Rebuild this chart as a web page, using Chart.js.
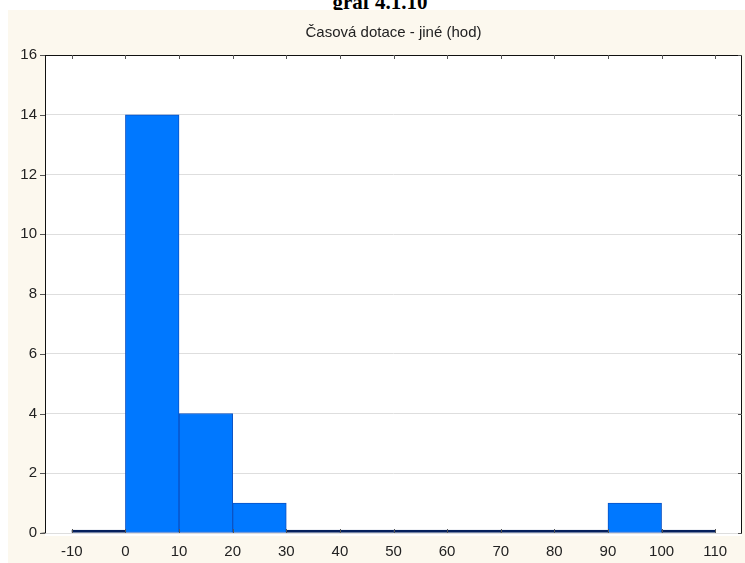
<!DOCTYPE html>
<html>
<head>
<meta charset="utf-8">
<script src="https://cdn.jsdelivr.net/npm/chart.js@4.4.1/dist/chart.umd.min.js"></script>
<style>
  html, body { margin: 0; padding: 0; background: #ffffff; }
  body { width: 745px; height: 563px; position: relative; overflow: hidden; }
  #doc-title {
    position: absolute; left: 0; width: 760px; top: -8px;
    text-align: center; font: bold 21px "Liberation Serif", "DejaVu Serif", serif;
    line-height: 21px; color: #000; z-index: 0;
  }
  #panel {
    position: absolute; left: 8px; top: 10px; width: 737px; height: 553px;
    background: #fcf8ee; z-index: 1;
  }
  canvas { display: block; }
</style>
</head>
<body>
<div id="doc-title">graf 4.1.10</div>
<div id="panel"><canvas id="chart" width="737" height="553"></canvas></div>
<script>
// histogram bin edges (hours) and counts per bin
const binEdges = [-10, 0, 10, 20, 30, 40, 50, 60, 70, 80, 90, 100, 110];
const counts = [0, 14, 4, 1, 0, 0, 0, 0, 0, 0, 1, 0];
const xTicks = [-10, 0, 10, 20, 30, 40, 50, 60, 70, 80, 90, 100, 110];
const yTicks = [0, 2, 4, 6, 8, 10, 12, 14, 16];
const chartTitle = 'Časová dotace - jiné (hod)';

const BLUE = '#0078ff';
const BLUE_EDGE = '#0a52c4';
const NAVY = '#06215e';
const FONT = '"Liberation Sans", Arial, sans-serif';

const barData = counts.map((c, i) => ({ x: (binEdges[i] + binEdges[i + 1]) / 2, y: c }));

// white plot area, frame and the small inner ticks
const framePlugin = {
  id: 'frame',
  beforeDraw(chart) {
    const { ctx, chartArea: a } = chart;
    ctx.save();
    ctx.fillStyle = '#ffffff';
    ctx.fillRect(a.left, a.top, a.right - a.left, a.bottom - a.top + 3);
    ctx.restore();
  },
  afterDatasetsDraw(chart) {
    const { ctx, chartArea: a, scales } = chart;
    ctx.save();
    ctx.strokeStyle = '#111111';
    ctx.lineWidth = 1;
    ctx.beginPath();
    ctx.moveTo(a.left, a.top + 0.5);
    ctx.lineTo(a.right - 0.5, a.top + 0.5);
    ctx.lineTo(a.right - 0.5, a.bottom);
    ctx.moveTo(a.left + 0.5, a.top);
    ctx.lineTo(a.left + 0.5, a.bottom);
    ctx.lineTo(a.left - 5, a.bottom + 0.5);
    ctx.stroke();
    ctx.strokeStyle = '#555555';
    ctx.beginPath();
    xTicks.forEach(v => {
      const px = Math.round(scales.x.getPixelForValue(v)) + 0.5;
      ctx.moveTo(px, a.top);
      ctx.lineTo(px, a.top + 4);
      ctx.moveTo(px, a.bottom);
      ctx.lineTo(px, a.bottom - 4);
    });
    yTicks.forEach(v => {
      const py = Math.round(scales.y.getPixelForValue(v)) + 0.5;
      ctx.moveTo(a.right, py);
      ctx.lineTo(a.right - 4, py);
      ctx.moveTo(a.left, py);
      ctx.lineTo(a.left - 5, py);
    });
    ctx.stroke();
    ctx.restore();
  }
};

new Chart(document.getElementById('chart'), {
  type: 'bar',
  data: {
    datasets: [{
      data: barData,
      backgroundColor: c => (c.raw && c.raw.y === 0 ? NAVY : BLUE),
      borderColor: c => (c.raw && c.raw.y === 0 ? NAVY : BLUE_EDGE),
      borderWidth: 1,
      borderSkipped: false,
      minBarLength: 3,
      barPercentage: 1,
      categoryPercentage: 1
    }]
  },
  options: {
    responsive: false,
    animation: false,
    layout: { padding: { left: 0, right: 3, top: 0, bottom: 0 } },
    plugins: {
      legend: { display: false },
      tooltip: { enabled: false },
      title: {
        display: true,
        fullSize: false,
        text: chartTitle,
        color: '#222222',
        font: { family: FONT, size: 15, weight: 'normal' },
        padding: { top: 14, bottom: 13 }
      }
    },
    scales: {
      x: {
        type: 'linear',
        min: -15,
        max: 115,
        offset: false,
        afterBuildTicks: s => { s.ticks = xTicks.map(v => ({ value: v })); },
        afterFit: s => { s.height = 30; },
        grid: { display: false, drawTicks: false },
        border: { display: false },
        ticks: {
          padding: 10,
          color: '#222222',
          maxRotation: 0,
          autoSkip: false,
          font: { family: FONT, size: 15 }
        }
      },
      y: {
        min: 0,
        max: 16,
        afterBuildTicks: s => { s.ticks = yTicks.map(v => ({ value: v })); },
        afterFit: s => { s.width = 37; },
        grid: { color: '#dedede', drawTicks: false },
        border: { display: false },
        ticks: {
          padding: 8,
          color: '#222222',
          font: { family: FONT, size: 15 }
        }
      }
    }
  },
  plugins: [framePlugin]
});
</script>
</body>
</html>
